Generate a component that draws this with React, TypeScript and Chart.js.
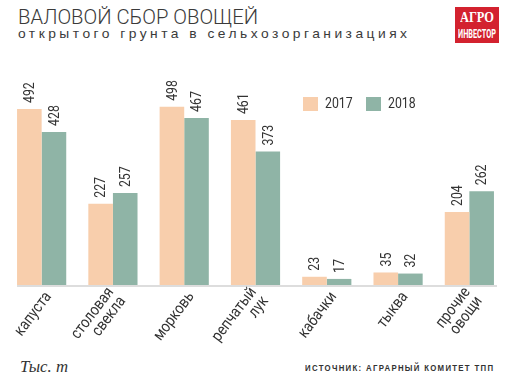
import React, { useEffect, useRef } from "react";
import { Chart, registerables } from "chart.js";

Chart.register(...registerables);

const categories: string[][] = [
  ["капуста"],
  ["столовая", "свекла"],
  ["морковь"],
  ["репчатый", "лук"],
  ["кабачки"],
  ["тыква"],
  ["прочие", "овощи"],
];
const values2017 = [492, 227, 498, 461, 23, 35, 204];
const values2018 = [428, 257, 467, 373, 17, 32, 262];
const seriesLabels = ["2017", "2018"];

const FONT = "Roboto, sans-serif";
const ORANGE = "#f8ceac";
const GREEN = "#8fb4a6";
const TEXT = "#333333";

function measure(text: string, font: string, letterSpacing = 0): number {
  const c = document.createElement("canvas").getContext("2d")!;
  c.font = font;
  return c.measureText(text).width + letterSpacing * text.length;
}

function FitText(props: {
  text: string;
  left: number;
  top: number;
  width: number;
  size: number;
  family: string;
  weight?: string | number;
  italic?: boolean;
  spacing?: number;
  color?: string;
}) {
  const { text, left, top, width, size, family, weight = "normal", italic = false, spacing = 0, color = TEXT } = props;
  const font = `${italic ? "italic " : ""}${weight} ${size}px ${family}`;
  const w = measure(text, font, spacing) - spacing;
  const sx = w > 0 ? width / w : 1;
  return (
    <div
      style={{
        position: "absolute",
        left,
        top,
        font,
        lineHeight: `${size}px`,
        letterSpacing: spacing,
        color,
        whiteSpace: "nowrap",
        transformOrigin: "left top",
        transform: `scaleX(${sx})`,
      }}
    >
      {text}
    </div>
  );
}

const ROT = (53 * Math.PI) / 180;

const overlayPlugin = {
  id: "overlay",
  beforeDatasetsDraw(chart: any) {
    const ctx = chart.ctx;
    const m0 = chart.getDatasetMeta(0);
    const m1 = chart.getDatasetMeta(chart.data.datasets.length - 1);
    const first = m0.data[0];
    const last = m1.data[m1.data.length - 1];
    const y = chart.scales.y.getPixelForValue(0);
    ctx.save();
    ctx.strokeStyle = "#dddddd";
    ctx.lineWidth = 2;
    ctx.beginPath();
    ctx.moveTo(first.x - first.width / 2, y + 1);
    ctx.lineTo(last.x + last.width / 2 + 3, y + 1);
    ctx.stroke();
    ctx.restore();
  },
  afterDatasetsDraw(chart: any) {
    const ctx = chart.ctx;
    ctx.save();
    // value labels
    ctx.font = `15px ${FONT}`;
    ctx.fillStyle = TEXT;
    ctx.textAlign = "left";
    ctx.textBaseline = "middle";
    chart.data.datasets.forEach((ds: any, di: number) => {
      const meta = chart.getDatasetMeta(di);
      meta.data.forEach((bar: any, i: number) => {
        ctx.save();
        ctx.translate(bar.x + 1, bar.y - 6);
        ctx.rotate(-Math.PI / 2);
        ctx.scale(0.82, 1);
        ctx.fillText(String(ds.data[i]), 0, 0);
        ctx.restore();
      });
    });
    // category labels
    const xs = chart.scales.x;
    const baseY = chart.scales.y.getPixelForValue(0);
    ctx.font = `16px ${FONT}`;
    ctx.textAlign = "right";
    chart.data.labels.forEach((lab: string[], i: number) => {
      const cx = xs.getPixelForValue(i);
      const n = lab.length;
      const ax = cx + (n > 1 ? 4 : 7);
      const ay = baseY + (n > 1 ? 9 : 9);
      ctx.save();
      ctx.translate(ax, ay);
      ctx.rotate(-ROT);
      lab.forEach((line, li) => {
        const off = (li - (n - 1) / 2) * 15;
        ctx.save();
        ctx.translate(0, off);
        ctx.scale(0.86, 1);
        ctx.fillText(line, 0, 0);
        ctx.restore();
      });
      ctx.restore();
    });
    // legend
    const lx = [303, 366];
    ctx.textAlign = "left";
    ctx.font = `15px ${FONT}`;
    chart.data.datasets.forEach((ds: any, di: number) => {
      ctx.fillStyle = ds.backgroundColor;
      ctx.fillRect(lx[di], 97, 15, 14);
      ctx.fillStyle = TEXT;
      ctx.save();
      ctx.translate(lx[di] + 22, 104.5);
      ctx.scale(0.82, 1);
      ctx.fillText(ds.label, 0, 0);
      ctx.restore();
    });
    ctx.restore();
  },
};

export default function App() {
  const ref = useRef<HTMLCanvasElement | null>(null);
  useEffect(() => {
    if (!ref.current) return;
    const chart = new Chart(ref.current, {
      type: "bar",
      data: {
        labels: categories,
        datasets: [
          { label: seriesLabels[0], data: values2017, backgroundColor: ORANGE },
          { label: seriesLabels[1], data: values2018, backgroundColor: GREEN },
        ],
      },
      options: {
        animation: false,
        responsive: false,
        maintainAspectRatio: false,
        events: [],
        layout: { padding: { left: 6, right: 2, top: 80, bottom: 0 } },
        plugins: { legend: { display: false }, tooltip: { enabled: false } },
        datasets: { bar: { categoryPercentage: 0.69, barPercentage: 1.0 } },
        scales: {
          x: {
            grid: { display: false },
            border: { display: false },
            ticks: { display: false },
            afterFit(scale: any) {
              scale.height = 60;
              scale.paddingLeft = 0;
              scale.paddingRight = 0;
            },
          },
          y: { display: false, min: 0, max: 573 },
        },
      },
      plugins: [overlayPlugin],
    });
    return () => chart.destroy();
  }, []);

  return (
    <div style={{ position: "absolute", left: 0, top: 0, width: 507, height: 379, background: "#fff", overflow: "hidden" }}>
      <FitText text="ВАЛОВОЙ СБОР ОВОЩЕЙ" left={18} top={7} width={240} size={21} family="Roboto, sans-serif" weight={300} color="#3a3a3a" />
      <FitText text="открытого грунта в сельхозорганизациях" left={18} top={27} width={389} size={13.5} family='"Liberation Sans", sans-serif' spacing={3.4} color="#3a3a3a" />
      <div style={{ position: "absolute", left: 455, top: 7, width: 44, height: 36, background: "#d3222f" }}>
        <FitText text="АГРО" left={5} top={4} width={34} size={14} family='"Liberation Serif", serif' weight="bold" color="#fff" />
        <FitText text="ИНВЕСТОР" left={3} top={20} width={38} size={13} family="Roboto, sans-serif" weight="bold" color="#fff" />
      </div>
      <canvas ref={ref} width={507} height={345} style={{ position: "absolute", left: 0, top: 0, width: 507, height: 345 }} />
      <FitText text="Тыс. т" left={20} top={358} width={48} size={17} family='"Liberation Serif", serif' italic color="#333" />
      <FitText text="ИСТОЧНИК: АГРАРНЫЙ КОМИТЕТ ТПП" left={305} top={364} width={188} size={9} family='"Liberation Sans", sans-serif' weight="bold" spacing={1.5} color="#333" />
    </div>
  );
}
